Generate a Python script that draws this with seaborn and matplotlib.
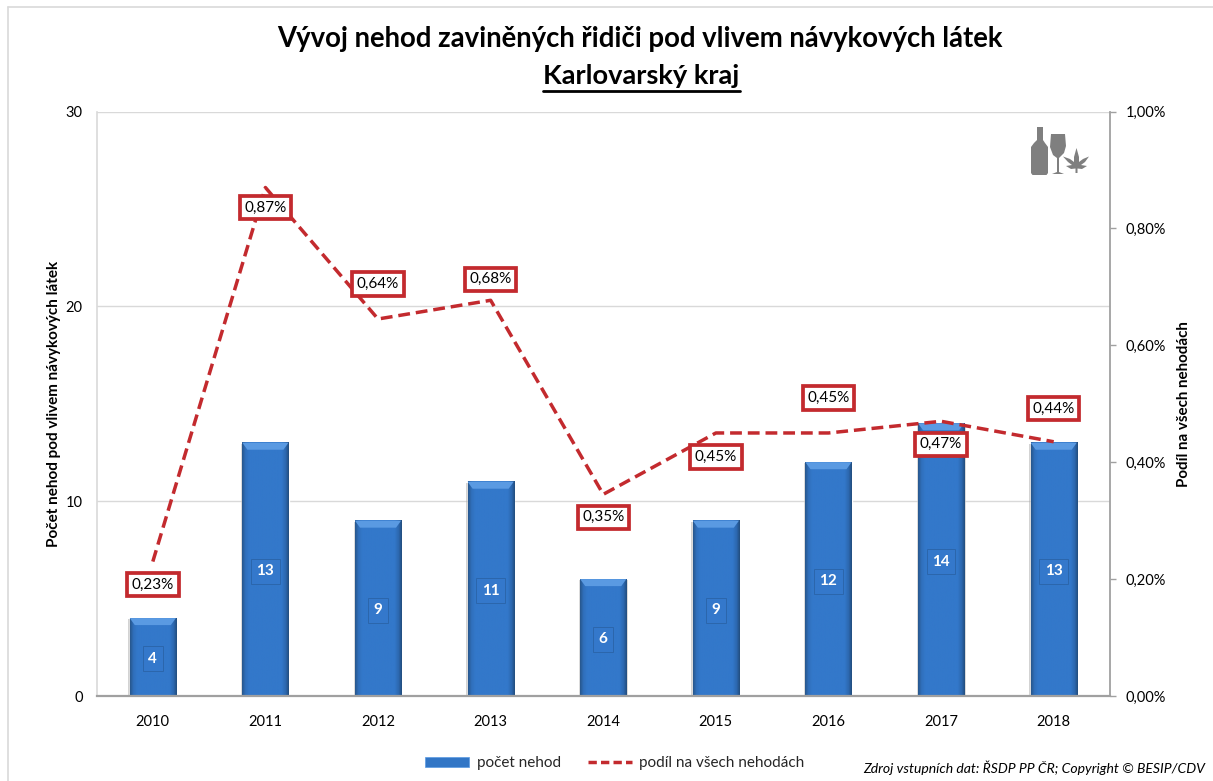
import numpy as np
import pandas as pd
import matplotlib
matplotlib.use("Agg")
import matplotlib.pyplot as plt
from matplotlib.colors import LinearSegmentedColormap
from matplotlib.patches import Polygon, Patch, Rectangle
from matplotlib.lines import Line2D
from matplotlib.ticker import FuncFormatter
import seaborn as sns

years = ["2010", "2011", "2012", "2013", "2014", "2015", "2016", "2017", "2018"]
accidents = [4, 13, 9, 11, 6, 9, 12, 14, 13]
share_pct = [0.23, 0.87, 0.645, 0.677, 0.345, 0.45, 0.45, 0.47, 0.435]
share_labels = ["0,23%", "0,87%", "0,64%", "0,68%", "0,35%", "0,45%", "0,45%", "0,47%", "0,44%"]
label_offsets_px = [(0, -23), (0, -20), (0, 35), (0, 21), (0, -23), (0, -24), (0, 35), (0, -23), (0, 33)]

W, H = 1213, 781
L, R, T, B = 96.5, 1110, 111.5, 696

sns.set_theme(style="white")
plt.rcParams["font.family"] = ["Lato", "Open Sans", "DejaVu Sans"]
fig = plt.figure(figsize=(W / 100, H / 100), dpi=100, facecolor="white")
ax = fig.add_axes([L / W, 1 - B / H, (R - L) / W, (B - T) / H])
df = pd.DataFrame({"year": years, "n": accidents})
sns.barplot(data=df, x="year", y="n", ax=ax, width=0.41, color="#3276C6", saturation=1, zorder=3)
ax.set_xlim(-0.5, 8.5)
ax.set_ylim(0, 30)
ax.set_yticks([0, 10, 20, 30])
ax.set_xlabel("")
ax.set_ylabel("Počet nehod pod vlivem návykových látek", fontsize=11, fontweight="bold", color="black", labelpad=3)
ax.yaxis.grid(True, color="#d9d9d9", lw=1)
ax.set_axisbelow(True)
ax.tick_params(axis="y", length=0, labelsize=10.5, labelcolor="black", pad=10)
ax.tick_params(axis="x", length=0, labelsize=10.5, labelcolor="black", pad=14)

# bar shading (bevel) built from the bars the library drew
stops = [(0, "#28588F"), (0.07, "#3070BC"), (0.15, "#3378CA"), (0.85, "#3378CA"), (0.94, "#2C67AE"), (1, "#234F80")]
grad = LinearSegmentedColormap.from_list("b", stops)
gx = np.linspace(0, 1, 64).reshape(1, -1)
for bar, val in zip(ax.patches, accidents):
    x0, w = bar.get_x(), bar.get_width()
    ax.add_patch(Rectangle((x0 - 0.012, 0), w + 0.024, val - 0.05, color="#a8a8a8", alpha=0.5, lw=0, zorder=2.5))
    ax.imshow(gx, extent=(x0, x0 + w, 0, val), cmap=grad, aspect="auto", zorder=3.1)
    ax.add_patch(Polygon([(x0, val), (x0 + w, val), (x0 + w * 0.89, val - 0.36), (x0 + w * 0.11, val - 0.36)],
                         closed=True, color="#5A9AE2", lw=0, zorder=3.2))
ax.set_xlim(-0.5, 8.5)
ax.set_ylim(0, 30)

for side in ["top", "right"]:
    ax.spines[side].set_visible(False)
ax.spines["left"].set_color("#d9d9d9")
ax.spines["left"].set_linewidth(1.2)
ax.spines["bottom"].set_color("#a0a0a0")
ax.spines["bottom"].set_linewidth(1.6)
ax.spines["bottom"].set_zorder(6)

for i, v in enumerate(accidents):
    ax.text(i, v / 2 - 0.1, str(v), ha="center", va="center", color="white", fontsize=11, fontweight="bold", zorder=5,
            bbox=dict(boxstyle="square,pad=0.36", fc="#3478CB", ec="#2B66AC", lw=0.7))

ax2 = ax.twinx()
sns.lineplot(x=np.arange(len(years)), y=share_pct, ax=ax2, color="#C32A2E", lw=2.5, zorder=4,
             linestyle=(0, (3.4, 1.7)), legend=False)
ax2.set_ylim(0, 1.0)
ax2.set_yticks(np.arange(0, 1.01, 0.2))
ax2.yaxis.set_major_formatter(FuncFormatter(lambda v, _: f"{v:.2f}".replace(".", ",") + "%"))
ax2.grid(False)
ax2.set_ylabel("Podíl na všech nehodách", fontsize=10.9, fontweight="bold", color="black", labelpad=8)
ax2.tick_params(axis="y", length=4, width=1, color="#a0a0a0", labelsize=10.5, labelcolor="black", pad=7, right=True)
for s in ["top", "left", "bottom"]:
    ax2.spines[s].set_visible(False)
ax2.spines["right"].set_color("#a0a0a0")
ax2.spines["right"].set_linewidth(1.3)

for i, (v, lab, off) in enumerate(zip(share_pct, share_labels, label_offsets_px)):
    ax2.annotate(lab, (i, v), xytext=(off[0] * 0.72, off[1] * 0.72), textcoords="offset points",
                 ha="center", va="center", fontsize=11, color="black", zorder=6,
                 bbox=dict(boxstyle="square,pad=0.3", fc="white", ec="#C32A2E", lw=2.7))

# outer chart-area frame (left and top edges)
fig.add_artist(Line2D([7.5 / W, 7.5 / W], [0, 1 - 6.5 / H], color="#d9d9d9", lw=1.2))
fig.add_artist(Line2D([7.5 / W, 1], [1 - 6.5 / H, 1 - 6.5 / H], color="#d9d9d9", lw=1.2))

# title
fig.text(640 / W, 1 - 38.5 / H, "Vývoj nehod zaviněných řidiči pod vlivem návykových látek",
         ha="center", va="center", fontsize=19.85, fontweight="bold", color="black")
t2 = fig.text(641.5 / W, 1 - 76 / H, "Karlovarský kraj", ha="center", va="center", fontsize=19.6, fontweight="bold", color="black")
fig.canvas.draw()
bb = t2.get_window_extent()
fig.add_artist(Line2D([bb.x0 / W, bb.x1 / W], [1 - 90.5 / H, 1 - 90.5 / H], color="black", lw=2))

# legend
handles = [Patch(facecolor="#3276C6", edgecolor="#5A9AE2", lw=0.5),
           Line2D([0], [0], color="#C32A2E", lw=2.5, linestyle=(0, (2.4, 1.2)))]
fig.legend(handles, ["počet nehod", "podíl na všech nehodách"], loc="center", bbox_to_anchor=(615 / W, 1 - 763.5 / H),
           ncol=2, frameon=False, fontsize=11, handlelength=2.85, handleheight=0.6, columnspacing=1.8, handletextpad=0.5)

fig.text(1205 / W, 1 - 768 / H, "Zdroj vstupních dat: ŘSDP PP ČR; Copyright © BESIP/CDV", ha="right", va="center",
         fontsize=10.1, style="italic", color="black")

# icon (bottle, glass, leaf)
ic = "#7f7f7f"
def P(pts):
    return [(x / W, 1 - y / H) for x, y in pts]
fig.add_artist(Polygon(P([(1037, 127), (1043, 127), (1043, 140), (1045, 143), (1048, 147), (1048, 173), (1046.5, 175), (1032.5, 175),
                          (1031, 173), (1031, 147), (1034, 143), (1037, 140)]), closed=True, color=ic, lw=0))
fig.add_artist(Polygon(P([(1051, 134), (1065, 134), (1066, 146), (1064, 153), (1060, 157), (1059, 158), (1059, 172), (1064, 174), (1052, 174),
                          (1057, 172), (1057, 158), (1053, 155), (1050, 147)]), closed=True, color=ic, lw=0))
fig.add_artist(Polygon(P([(1076.5, 148), (1079, 157), (1079, 162), (1083, 159), (1089, 156.5), (1085, 162), (1081, 165), (1087, 166), (1082, 169),
                          (1077.5, 168.5), (1077.5, 173), (1075.5, 173), (1075.5, 168.5), (1071, 169), (1066, 166), (1072, 165),
                          (1068, 162), (1063, 156.5), (1070, 159), (1074, 162), (1074, 157)]), closed=True, color=ic, lw=0))

fig.savefig("out.png", dpi=100, facecolor="white")
